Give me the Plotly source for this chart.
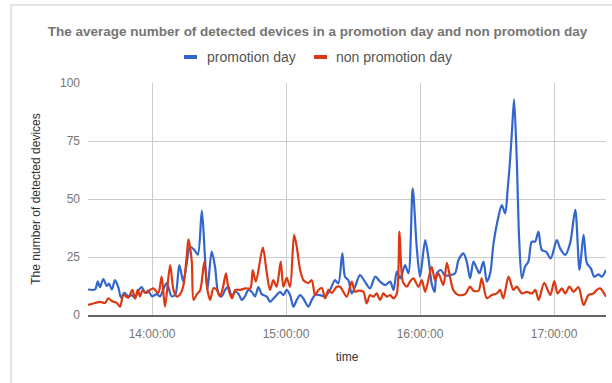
import plotly.graph_objects as go

DAY = "2019-01-01 "

promo_time = [
    "13:31:20", "13:34:30", "13:35:42", "13:36:42", "13:38:12", "13:39:42", "13:40:42", "13:42:00",
    "13:43:24", "13:44:54", "13:46:06", "13:47:36", "13:49:24", "13:50:54", "13:52:24", "13:53:54",
    "13:55:24", "13:56:54", "13:58:18", "14:00:00", "14:02:06", "14:03:36", "14:05:00", "14:06:36",
    "14:08:48", "14:10:30", "14:12:12", "14:14:00", "14:15:30", "14:17:00", "14:19:00", "14:20:30",
    "14:22:18", "14:23:42", "14:24:48", "14:26:42", "14:28:12", "14:29:42", "14:31:12", "14:32:42",
    "14:34:12", "14:35:42", "14:37:12", "14:38:36", "14:40:12", "14:41:36", "14:43:06", "14:44:36",
    "14:46:06", "14:47:36", "14:49:06", "14:51:24", "14:52:48", "14:54:18", "14:55:48", "14:57:18",
    "14:58:48", "15:00:18", "15:01:48", "15:03:18", "15:04:48", "15:06:18", "15:07:48", "15:10:00",
    "15:11:30", "15:13:00", "15:15:12", "15:17:30", "15:19:42", "15:21:54", "15:23:24", "15:25:12",
    "15:26:24", "15:27:54", "15:29:24", "15:30:54", "15:33:06", "15:35:18", "15:37:36", "15:39:54",
    "15:42:06", "15:44:24", "15:46:36", "15:48:06", "15:49:36", "15:51:06", "15:53:18", "15:54:48",
    "15:56:42", "15:58:30", "16:00:00", "16:02:18", "16:03:42", "16:05:18", "16:06:30", "16:07:30",
    "16:09:18", "16:11:12", "16:13:30", "16:15:42", "16:17:12", "16:19:24", "16:20:54", "16:22:24",
    "16:23:54", "16:25:24", "16:26:36", "16:28:24", "16:29:54", "16:31:24", "16:32:54", "16:35:06",
    "16:36:36", "16:38:06", "16:39:12", "16:40:18", "16:41:12", "16:42:06", "16:43:18", "16:44:24",
    "16:45:36", "16:47:00", "16:48:30", "16:50:00", "16:51:30", "16:53:00", "16:54:30", "16:56:24",
    "16:58:30", "17:01:12", "17:02:42", "17:05:00", "17:07:12", "17:09:30", "17:11:24", "17:13:12",
    "17:14:42", "17:16:30", "17:18:00", "17:19:54", "17:21:24", "17:23:15",
]
promo_value = [
    11, 11, 14.5, 12, 15.5, 12.5, 13.5, 11,
    15, 12, 7.5, 9.5, 8, 8.6, 7.5, 10.5,
    12, 9.5, 10.5, 8, 9, 8, 11, 13.8,
    8, 9, 21.5, 14.4, 22, 29.4, 28, 26,
    45, 25, 10.8, 27.3, 20.8, 9.3, 8, 10.8,
    12.2, 8, 10, 9.3, 6.5, 8, 10.8, 10,
    8, 12, 9, 7.9, 5.7, 7, 8.6, 10,
    8.6, 10.8, 8.6, 3.6, 6.5, 8.6, 7, 3.6,
    6.5, 8.6, 8.6, 7.9, 10.8, 15, 13.6, 26.6,
    16.5, 15, 9.3, 12.2, 17.2, 14.4, 11.5, 16.5,
    14.4, 12.9, 14.4, 10.8, 18.7, 15.8, 21.5, 18,
    54.6, 29.4, 16.5, 32.3, 25, 13, 10, 18,
    19.4, 17, 17.2, 18, 23.7, 26.6, 23, 15.8,
    23, 20, 18, 23, 14.4, 18, 30.9, 42.4,
    47.4, 43.8, 53.9, 66.8, 80, 93, 66.8, 32,
    15.8, 20.8, 23, 31.6, 31.6, 35.9, 28, 27.3,
    24.4, 32.3, 28.7, 25.9, 31, 45.3, 19.4, 34.5,
    22.3, 20, 16.5, 17.5, 16.5, 19.4,
]

nonpromo_time = [
    "13:31:20", "13:34:30", "13:36:42", "13:39:00", "13:40:24", "13:42:00", "13:44:12", "13:45:42",
    "13:47:12", "13:49:24", "13:51:12", "13:52:24", "13:53:36", "13:54:36", "13:55:42", "13:57:36",
    "13:59:06", "14:00:36", "14:02:48", "14:04:18", "14:05:48", "14:08:06", "14:09:36", "14:11:06",
    "14:12:36", "14:14:00", "14:15:30", "14:16:18", "14:17:48", "14:18:36", "14:20:06", "14:21:36",
    "14:23:24", "14:24:48", "14:26:00", "14:27:30", "14:29:00", "14:30:24", "14:31:54", "14:33:06",
    "14:34:18", "14:35:48", "14:37:18", "14:39:30", "14:41:48", "14:44:00", "14:45:06", "14:46:30",
    "14:49:36", "14:51:24", "14:52:48", "14:54:18", "14:55:48", "14:57:36", "14:58:48", "15:00:18",
    "15:01:48", "15:03:36", "15:04:48", "15:06:18", "15:07:48", "15:10:00", "15:11:30", "15:13:00",
    "15:14:30", "15:16:00", "15:17:30", "15:19:00", "15:20:30", "15:22:42", "15:24:12", "15:27:12",
    "15:29:24", "15:30:54", "15:32:24", "15:34:36", "15:36:06", "15:37:36", "15:39:06", "15:40:36",
    "15:42:06", "15:43:36", "15:45:06", "15:46:36", "15:48:06", "15:49:36", "15:50:48", "15:52:18",
    "15:54:06", "15:55:30", "15:57:00", "15:59:18", "16:00:48", "16:02:18", "16:05:12", "16:06:42",
    "16:08:12", "16:10:24", "16:12:00", "16:13:24", "16:14:54", "16:17:12", "16:20:12", "16:22:24",
    "16:23:54", "16:26:12", "16:27:36", "16:29:54", "16:32:06", "16:34:24", "16:35:48", "16:37:18",
    "16:39:36", "16:41:48", "16:43:18", "16:45:36", "16:47:48", "16:50:06", "16:51:36", "16:53:06",
    "16:55:36", "16:58:18", "17:00:06", "17:01:36", "17:03:30", "17:05:00", "17:06:54", "17:08:42",
    "17:10:54", "17:13:12", "17:15:24", "17:17:42", "17:19:06", "17:20:36", "17:23:15",
]
nonpromo_value = [
    4.3, 5.2, 5.7, 5.2, 7.2, 6, 5.2, 3.6,
    8.6, 7.5, 10.8, 7, 10.8, 8, 10.5, 9.5,
    10.8, 11.5, 9.5, 16.5, 3.6, 21.5, 10.8, 7.9,
    9, 12.5, 25, 32.6, 23, 6.5, 9, 10.8,
    23, 10.8, 6.5, 11.5, 10.8, 8, 12.5, 18,
    10.8, 7.2, 10.8, 10.8, 11.5, 11.5, 19.4, 14.4,
    29, 18, 10.8, 15, 12.2, 23, 12.2, 16,
    12.2, 34.5, 29.4, 19.4, 15, 13.8, 15, 8.6,
    10.8, 11.6, 7.2, 10.8, 9.5, 12.2, 12.2, 7.9,
    14.4, 10, 10.5, 10, 5, 8.6, 7.9, 9.3,
    6.5, 9.3, 7.9, 8.6, 7.2, 9.3, 35.9, 14.4,
    12.2, 14.4, 15.8, 12.2, 15, 10, 20.8, 15,
    18, 12.9, 22.5, 16.5, 10.8, 8.6, 9, 12.2,
    10.5, 10.5, 15.8, 7.2, 8.6, 9.3, 10.8, 7.2,
    16.5, 10.8, 12.2, 9.3, 10, 9.3, 10.8, 6.5,
    13.9, 8.6, 14.6, 9.3, 11.5, 9.3, 12.2, 10,
    12, 4.3, 8.6, 9.3, 10.8, 11.5, 7.9,
]

series_names = ["promotion day", "non promotion day"]
series_colors = ["#3366CC", "#DC3912"]
hour_ticks = ["14:00:00", "15:00:00", "16:00:00", "17:00:00"]
y_ticks = [0, 25, 50, 75, 100]

FONT = "Arial, Liberation Sans, sans-serif"
GRAY = "#757575"

# plot-area geometry in pixels (used to place decorations)
W, H = 612, 383
L, R, T, B = 88, 6, 83, 68
PW, PH = W - L - R, H - T - B


def px(x):
    return (x - L) / PW


def py(y):
    return (H - B - y) / PH


fig = go.Figure()
for times, values, name, color in [
    (promo_time, promo_value, series_names[0], series_colors[0]),
    (nonpromo_time, nonpromo_value, series_names[1], series_colors[1]),
]:
    fig.add_trace(go.Scatter(
        x=[DAY + t for t in times], y=values, name=name, showlegend=False,
        mode="lines", line=dict(color=color, width=2.2, shape="spline", smoothing=0.8),
    ))

fig.update_layout(
    width=W, height=H, autosize=False,
    margin=dict(l=L, r=R, t=T, b=B),
    paper_bgcolor="white", plot_bgcolor="white",
    font=dict(family=FONT, size=12, color=GRAY),
    title=dict(
        text="<b>The average number of detected devices in a promotion day and non promotion day</b>",
        x=(47 + 588) / 2 / W, xanchor="center", y=1 - 31 / H, yanchor="middle",
        font=dict(family=FONT, size=13.5, color=GRAY),
    ),
    showlegend=False,
)

fig.update_xaxes(
    type="date",
    range=[DAY + promo_time[0], DAY + promo_time[-1]],
    tickvals=[DAY + t for t in hour_ticks], ticktext=hour_ticks,
    showgrid=True, gridcolor="#cccccc", gridwidth=1,
    showline=True, linecolor="#666666", linewidth=2,
    zeroline=False, ticks="", ticklen=0, ticklabelstandoff=7,
    tickfont=dict(family=FONT, size=12, color=GRAY),
    title=dict(text="time", font=dict(family=FONT, size=12, color="#333333"), standoff=12),
)
fig.update_yaxes(
    range=[0, 100], tickvals=y_ticks,
    showgrid=True, gridcolor="#cccccc", gridwidth=1,
    zeroline=False, showline=False, ticks="", ticklabelstandoff=7,
    tickfont=dict(family=FONT, size=12, color=GRAY),
    title=dict(text="The number of detected devices", font=dict(family=FONT, size=12, color="#333333"), standoff=16),
)

# legend drawn as short thick dashes plus text (Google Charts style)
legend_items = [(184, 197, 205), (314, 327, 334)]
for (x0, x1, tx), name, color in zip(legend_items, series_names, series_colors):
    fig.add_shape(type="line", xref="paper", yref="paper",
                  x0=px(x0), x1=px(x1), y0=py(57), y1=py(57),
                  line=dict(color=color, width=4))
    fig.add_annotation(xref="paper", yref="paper", x=px(tx), y=py(57),
                       xanchor="left", yanchor="middle", showarrow=False,
                       text=name, font=dict(family=FONT, size=14, color="#555555"))

# light frame around the chart (screenshot border)
fig.add_shape(
    type="rect", xref="paper", yref="paper",
    x0=px(11), x1=px(W + 10), y0=py(H + 40), y1=py(5),
    line=dict(color="#e3e3e3", width=2), fillcolor="rgba(0,0,0,0)", layer="below",
)

fig.write_html("out.html")
